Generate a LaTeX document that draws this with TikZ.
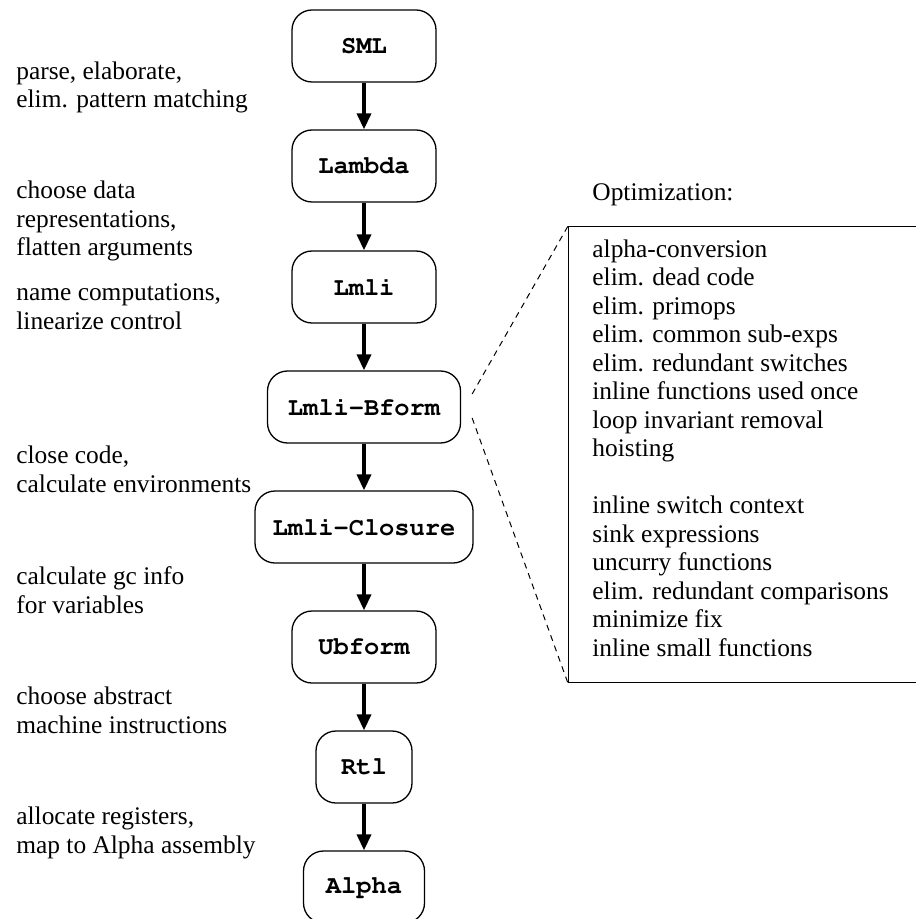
\documentclass[tikz,border=0pt]{standalone}
\usepackage{fontspec}
\setmainfont{Liberation Serif}
\usetikzlibrary{arrows.meta,calc}
\newcommand{\phasefont}{\fontencoding{T1}\fontfamily{pcr}\fontseries{b}\fontsize{12.7}{14.2}\selectfont}

\begin{document}
\begin{tikzpicture}[x=0.5pt,y=-0.5pt]
        \tikzstyle{every node}+=[inner sep=0pt]
        \tikzstyle{phase}=[draw, line width=0.65pt, rounded corners=10pt, minimum height=36pt, font=\phasefont]
        \tikzstyle{note}=[anchor=base west, align=left, font=\fontsize{12.7}{14.25}\selectfont]
        \tikzstyle{flow}=[line width=1.75pt, -{Triangle[length=8pt,width=7pt]}]
        \tikzstyle{zoomline}=[line width=0.5pt, dash pattern=on 3pt off 2.5pt]
        \useasboundingbox (0,0) rectangle (915,919);
        % compiler phases
        \node (sml) [phase, minimum width=72pt] at (364,46) {SML};
        \node (lambda) [phase, minimum width=72pt] at (364,166) {Lambda};
        \node (lmli) [phase, minimum width=72pt] at (364,287) {Lmli};
        \node (bform) [phase, minimum width=96.5pt] at (364,407) {Lmli-Bform};
        \node (closure) [phase, minimum width=109pt] at (364,527) {Lmli-Closure};
        \node (ubform) [phase, minimum width=72pt] at (364,647) {Ubform};
        \node (rtl) [phase, minimum width=48pt] at (364,767) {Rtl};
        \node (alpha) [phase, minimum width=60.5pt] at (364,887) {Alpha};
        \draw [flow] (sml) -- (lambda);
        \draw [flow] (lambda) -- (lmli);
        \draw [flow] (lmli) -- (bform);
        \draw [flow] (bform) -- (closure);
        \draw [flow] (closure) -- (ubform);
        \draw [flow] (ubform) -- (rtl);
        \draw [flow] (rtl) -- (alpha);
        % what each step does (base = last line)
        \node (parse) [note] at (16,108) {parse, elaborate,\\elim. pattern matching};
        \node (datarep) [note] at (16,256) {choose data\\representations,\\flatten arguments};
        \node (naming) [note] at (16,329) {name computations,\\linearize control};
        \node (closing) [note] at (16,492) {close code,\\calculate environments};
        \node (gcinfo) [note] at (16,613) {calculate gc info\\for variables};
        \node (instrs) [note] at (16,733) {choose abstract\\machine instructions};
        \node (regs) [note] at (16,853) {allocate registers,\\map to Alpha assembly};
        % optimization box
        \node (opttitle) [note] at (592,201) {Optimization:};
        \node (optbox) [draw, line width=0.65pt, anchor=north west, minimum width=176pt, minimum height=228pt] at (568,226) {};
        \node (optlist) [note] at (592,656) {alpha-conversion\\elim. dead code\\elim. primops\\elim. common sub-exps\\elim. redundant switches\\inline functions used once\\loop invariant removal\\hoisting\\[14.25pt]inline switch context\\sink expressions\\uncurry functions\\elim. redundant comparisons\\minimize fix\\inline small functions};
        \draw [zoomline] ($(bform.east)+(11,-13)$) -- (optbox.north west);
        \draw [zoomline] ($(bform.east)+(11,11)$) -- (optbox.south west);
\end{tikzpicture}
\end{document}
